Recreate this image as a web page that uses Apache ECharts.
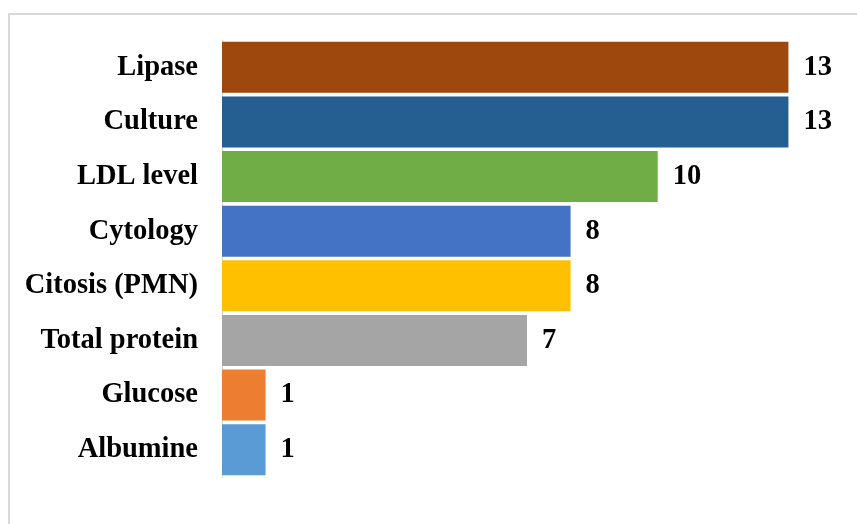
<!DOCTYPE html>
<html>
<head>
<meta charset="utf-8">
<style>
html,body{margin:0;padding:0;background:#fff;}
#chart{width:857px;height:524px;}
</style>
<script src="https://cdn.jsdelivr.net/npm/echarts@6/dist/echarts.min.js"></script>
</head>
<body>
<div id="chart"></div>
<script>
var categories = ['Lipase', 'Culture', 'LDL level', 'Cytology', 'Citosis (PMN)', 'Total protein', 'Glucose', 'Albumine'];
var values = [13, 13, 10, 8, 8, 7, 1, 1];
var colors = ['#9E480E', '#255E91', '#70AD47', '#4472C4', '#FFC000', '#A5A5A5', '#ED7D31', '#5B9BD5'];

var chart = echarts.init(document.getElementById('chart'));
var fontFam = '"Liberation Serif", "Times New Roman", serif';
chart.setOption({
  animation: false,
  backgroundColor: '#fff',
  graphic: [{
    type: 'rect',
    shape: { x: 9, y: 14, width: 900, height: 600 },
    style: { fill: 'none', stroke: '#d9d9d9', lineWidth: 2 },
    silent: true
  }],
  grid: { left: 222, top: 40, width: 610, height: 437, containLabel: false },
  xAxis: {
    type: 'value', min: 0, max: 14, show: false
  },
  yAxis: {
    type: 'category',
    data: categories,
    inverse: true,
    axisLine: { show: true, lineStyle: { color: '#d9d9d9', width: 1 } },
    axisTick: { show: false },
    axisLabel: {
      margin: 24,
      color: '#000',
      fontFamily: fontFam,
      fontWeight: 'bold',
      fontSize: 28.5
    }
  },
  series: [{
    type: 'bar',
    data: values.map(function (v, i) { return { value: v, itemStyle: { color: colors[i] } }; }),
    barCategoryGap: '6.5%',
    label: {
      show: true,
      position: 'right',
      distance: 15,
      color: '#000',
      fontFamily: fontFam,
      fontWeight: 'bold',
      fontSize: 28.5
    }
  }]
});
</script>
</body>
</html>
